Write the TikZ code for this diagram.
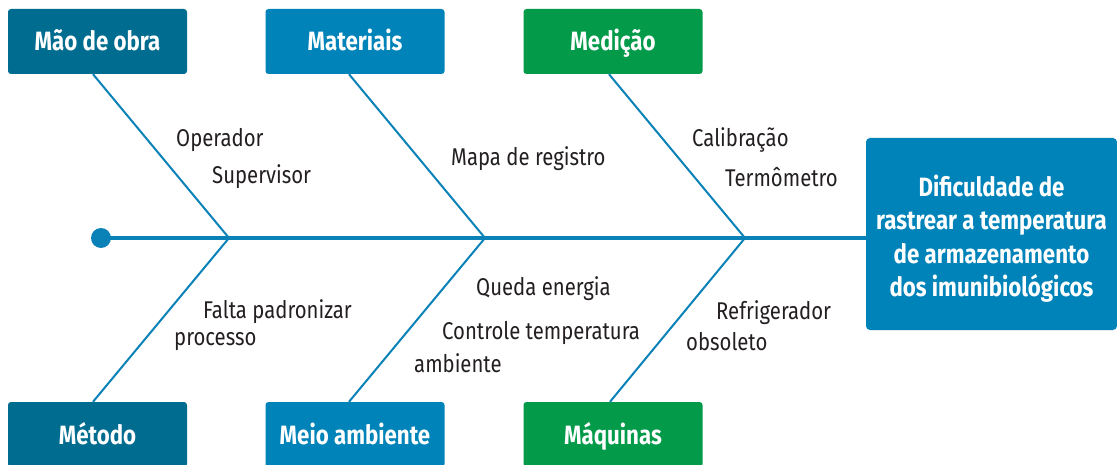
\documentclass[tikz,border=0pt]{standalone}
\usepackage{fontspec}
\setmainfont{Fira Sans}[FakeStretch=0.84]
\usetikzlibrary{calc}
\definecolor{darkteal}{HTML}{006C8F}
\definecolor{midblue}{HTML}{0083B8}
\definecolor{mgreen}{HTML}{039A4A}
\definecolor{linecol}{HTML}{0A82B8}
\definecolor{txt}{HTML}{231F20}
\tikzset{
  catbox/.style={rounded corners=3pt, minimum width=179pt, minimum height=65pt, inner sep=0pt,
    text height=25pt, text depth=6pt,
    text=white, font=\fontsize{26.5}{30}\selectfont\bfseries},
  headbox/.style={rounded corners=4pt, fill=midblue, minimum width=251pt, minimum height=192pt,
    inner sep=0pt},
  headtext/.style={text=white, align=center, inner sep=0pt, font=\fontsize{26.5}{33.5}\selectfont\bfseries},
  cause/.style={anchor=west, inner sep=0pt, text=txt, font=\fontsize{24.2}{30}\selectfont},
  bone/.style={draw=linecol, line width=2pt},
  spine/.style={draw=linecol, line width=4pt}
}
\begin{document}
\begin{tikzpicture}[x=1pt,y=-1pt]
\useasboundingbox (0,0) rectangle (1117,465);
% category boxes
\node[catbox, fill=darkteal] (mao) at (97.5,41.5) {Mão de obra};
\node[catbox, fill=midblue] (mat) at (355,41.5) {Materiais};
\node[catbox, fill=mgreen] (med) at (613,41.5) {Medição};
\node[catbox, fill=darkteal] (met) at (97.5,434.5) {Método};
\node[catbox, fill=midblue] (meio) at (355,434.5) {Meio ambiente};
\node[catbox, fill=mgreen] (maq) at (613,434.5) {Máquinas};
% head
\node[headbox] (head) at (991.5,234) {};
\node[headtext] (headtxt) at (991.5,238.5) {Dificuldade de\\rastrear a temperatura\\de armazenamento\\dos imunibiológicos};
% spine
\coordinate (tail) at (101,238);
\coordinate (j1) at (229,238);
\coordinate (j2) at (485,238);
\coordinate (j3) at (745,238);
\draw[spine] (tail) -- (tail -| head.west);
\fill[linecol] (tail) circle (10pt);
% bones
\draw[bone] ([xshift=-4.5pt]mao.south) -- (j1);
\draw[bone] ([xshift=-6pt]mat.south) -- (j2);
\draw[bone] ([xshift=-4pt]med.south) -- (j3);
\draw[bone] ([xshift=-4.5pt]met.north) -- (j1);
\draw[bone] ([xshift=-6pt]meio.north) -- (j2);
\draw[bone] ([xshift=-3pt]maq.north) -- (j3);
% causes
\node[cause] (c1) at (176,140) {Operador};
\node[cause] (c2) at (212,177) {Supervisor};
\node[cause] (c3) at (451,159) {Mapa de registro};
\node[cause] (c4) at (692,140) {Calibração};
\node[cause] (c5) at (725,177) {Termômetro};
\node[cause] (c6) at (203,312) {Falta padronizar};
\node[cause] (c6b) at (174,342) {processo};
\node[cause] (c7) at (476,289) {Queda energia};
\node[cause] (c8) at (442,333) {Controle temperatura};
\node[cause] (c8b) at (414,363) {ambiente};
\node[cause] (c9) at (716,313) {Refrigerador};
\node[cause] (c9b) at (686,342) {obsoleto};
\end{tikzpicture}
\end{document}
